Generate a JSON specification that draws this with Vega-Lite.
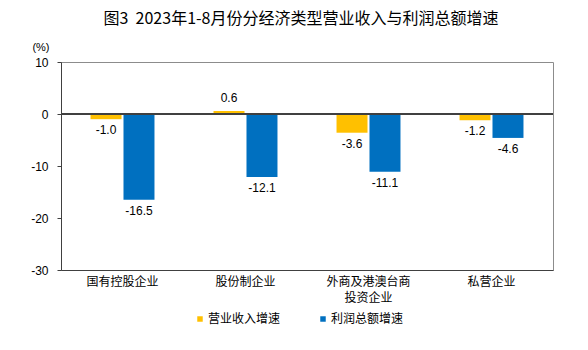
{
  "$schema": "https://vega.github.io/schema/vega-lite/v6.json",
  "width": 492,
  "height": 208,
  "autosize": {"type": "none"},
  "padding": {"left": 61, "top": 62, "right": 35, "bottom": 80},
  "background": "white",
  "config": {
    "font": "Liberation Sans, Noto Sans CJK SC",
    "view": {"stroke": "#8c8c8c", "strokeWidth": 1},
    "locale": {
      "number": {"decimal": ".", "thousands": ",", "grouping": [3], "currency": ["", ""], "minus": "-"}
    }
  },
  "title": {
    "text": "图3\u00a0 2023年1-8月份分经济类型营业收入与利润总额增速",
    "anchor": "middle",
    "dx": -6,
    "offset": 14,
    "fontSize": 16,
    "fontWeight": "normal",
    "color": "#000000",
    "font": "Noto Sans CJK SC"
  },
  "data": {
    "values": [
      {"type": "国有控股企业", "series": "营业收入增速", "value": -1.0},
      {"type": "国有控股企业", "series": "利润总额增速", "value": -16.5},
      {"type": "股份制企业", "series": "营业收入增速", "value": 0.6},
      {"type": "股份制企业", "series": "利润总额增速", "value": -12.1},
      {"type": "外商及港澳台商|投资企业", "series": "营业收入增速", "value": -3.6},
      {"type": "外商及港澳台商|投资企业", "series": "利润总额增速", "value": -11.1},
      {"type": "私营企业", "series": "营业收入增速", "value": -1.2},
      {"type": "私营企业", "series": "利润总额增速", "value": -4.6}
    ]
  },
  "encoding": {
    "x": {
      "field": "type",
      "type": "nominal",
      "sort": null,
      "scale": {"paddingInner": 0.48, "paddingOuter": 0.24},
      "axis": {
        "title": null,
        "labelAngle": 0,
        "labelExpr": "split(datum.label, '|')",
        "labelFont": "Noto Sans CJK SC",
        "labelFontSize": 12,
        "labelColor": "#000000",
        "labelPadding": 6,
        "labelLineHeight": 16,
        "ticks": false,
        "domainColor": "#404040",
        "domain": true
      }
    },
    "xOffset": {
      "field": "series",
      "type": "nominal",
      "sort": ["营业收入增速", "利润总额增速"],
      "scale": {"paddingInner": 0.06, "paddingOuter": 0}
    },
    "y": {
      "field": "value",
      "type": "quantitative",
      "scale": {"domain": [-30, 10], "nice": false},
      "axis": {
        "title": "(%)",
        "titleAngle": 0,
        "titleAlign": "right",
        "titleBaseline": "middle",
        "titleX": -12,
        "titleY": -15,
        "titleFontSize": 11,
        "titleFontWeight": "normal",
        "titleColor": "#000000",
        "values": [-30, -20, -10, 0, 10],
        "grid": false,
        "tickSize": 4,
        "tickColor": "#404040",
        "domainColor": "#404040",
        "labelFontSize": 12,
        "labelColor": "#000000",
        "labelPadding": 9
      }
    }
  },
  "layer": [
    {
      "mark": {"type": "bar"},
      "encoding": {
        "color": {
          "field": "series",
          "type": "nominal",
          "sort": ["营业收入增速", "利润总额增速"],
          "scale": {"domain": ["营业收入增速", "利润总额增速"], "range": ["#FFC000", "#0070C0"]},
          "legend": {
            "title": null,
            "orient": "none",
            "legendX": 133,
            "legendY": 251,
            "direction": "horizontal",
            "symbolType": "square",
            "symbolSize": 30,
            "symbolStrokeWidth": 0,
            "labelFont": "Noto Sans CJK SC",
            "labelFontSize": 12,
            "labelColor": "#000000",
            "labelOffset": 2,
            "columnPadding": 36
          }
        }
      }
    },
    {
      "mark": {"type": "rule", "color": "#404040", "strokeWidth": 1},
      "encoding": {"y": {"datum": 0}, "x": {"value": 0}, "x2": {"value": 492}, "xOffset": null}
    },
    {
      "transform": [{"filter": "datum.value < 0"}],
      "mark": {"type": "text", "baseline": "top", "dy": 6, "fontSize": 12, "color": "#000000"},
      "encoding": {"text": {"field": "value", "type": "quantitative", "format": ".1f"}}
    },
    {
      "transform": [{"filter": "datum.value >= 0"}],
      "mark": {"type": "text", "baseline": "bottom", "dy": -6, "fontSize": 12, "color": "#000000"},
      "encoding": {"text": {"field": "value", "type": "quantitative", "format": ".1f"}}
    }
  ]
}
